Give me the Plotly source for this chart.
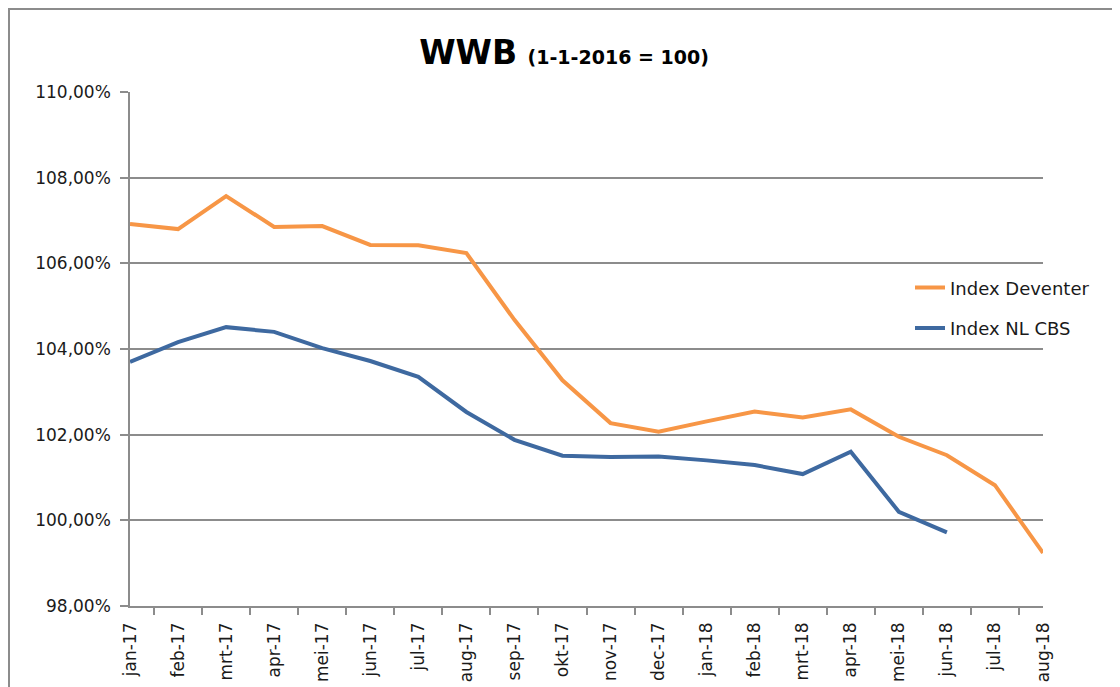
import plotly.graph_objects as go

months = ["jan-17", "feb-17", "mrt-17", "apr-17", "mei-17", "jun-17", "jul-17", "aug-17",
          "sep-17", "okt-17", "nov-17", "dec-17", "jan-18", "feb-18", "mrt-18", "apr-18",
          "mei-18", "jun-18", "jul-18", "aug-18"]

index_deventer = [106.92, 106.80, 107.57, 106.85, 106.87, 106.43, 106.42, 106.24,
                  104.68, 103.27, 102.27, 102.07, 102.31, 102.54, 102.40, 102.59,
                  101.95, 101.52, 100.82, 99.24]

index_nl_cbs = [103.70, 104.16, 104.51, 104.40, 104.02, 103.72, 103.35, 102.53,
                101.88, 101.51, 101.48, 101.49, 101.40, 101.29, 101.08, 101.60,
                100.20, 99.72]

y_ticks = [98, 100, 102, 104, 106, 108, 110]
y_labels = [f"{v:.2f}".replace(".", ",") + "%" for v in y_ticks]

FONT = "DejaVu Sans"
AXIS_GREY = "#8c8c8c"
TEXT = "#1a1a1a"

# page body adds an 8px offset, so the figure is drawn a bit smaller
W, H = 1112, 679
L, R, T, B = 122, 77, 84, 81
plot_w, plot_h = W - L - R, H - T - B

fig = go.Figure()
fig.add_trace(go.Scatter(
    x=months, y=index_deventer, mode="lines", name="Index Deventer",
    legendgroup="dev",
    line=dict(color="#F79646", width=4)
))
fig.add_trace(go.Scatter(
    x=months[:len(index_nl_cbs)], y=index_nl_cbs, mode="lines", name="Index NL CBS",
    legendgroup="cbs",
    line=dict(color="#3E69A0", width=4)
))

fig.update_layout(
    width=W,
    height=H,
    paper_bgcolor="white",
    plot_bgcolor="white",
    margin=dict(l=L, r=R, t=T, b=B, autoexpand=False),
    font=dict(family=FONT, color=TEXT, size=17),
    title=dict(
        text="<b>WWB</b> <b><span style='font-size:19px'>(1-1-2016 = 100)</span></b>",
        x=0.5, xanchor="center", y=0.935, yanchor="middle",
        font=dict(family=FONT, size=33, color="black"),
    ),
    showlegend=True,
    legend=dict(
        x=(902 - L) / plot_w, y=0.58, yanchor="middle",
        bgcolor="rgba(0,0,0,0)",
        font=dict(family=FONT, size=18, color=TEXT),
        tracegroupgap=14,
    ),
    xaxis=dict(
        type="category",
        categoryorder="array", categoryarray=months,
        tickangle=-90,
        tickson="boundaries",
        ticks="outside", ticklen=7, tickcolor=AXIS_GREY, tickwidth=1.5,
        showline=True, linecolor=AXIS_GREY, linewidth=1.5,
        showgrid=False,
        automargin=False,
        ticklabelstandoff=8,
        tickfont=dict(family=FONT, size=17, color=TEXT),
    ),
    yaxis=dict(
        range=[98, 110],
        tickvals=y_ticks, ticktext=y_labels,
        ticks="outside", ticklen=8, tickcolor=AXIS_GREY, tickwidth=1.5,
        showline=True, linecolor=AXIS_GREY, linewidth=1.5,
        showgrid=True, gridcolor=AXIS_GREY, gridwidth=1.5,
        zeroline=False,
        automargin=False,
        ticklabelstandoff=6,
        tickfont=dict(family=FONT, size=17, color=TEXT),
    ),
)

# outer chart border (left and top edges visible)
fig.add_shape(type="rect", xref="paper", yref="paper",
              x0=-(L - 1) / plot_w, x1=1.3, y0=-0.3, y1=1 + (T - 1) / plot_h,
              line=dict(color="#8c8c8c", width=2), layer="below")

fig.write_html("out.html")
